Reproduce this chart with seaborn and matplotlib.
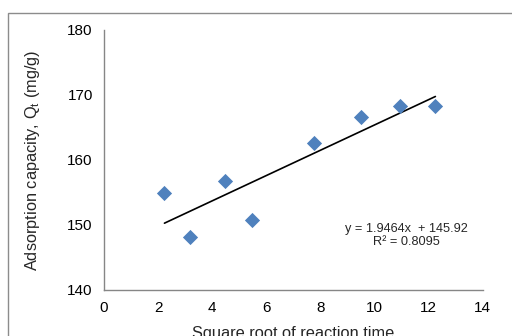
"""
Adsorption kinetics: intraparticle diffusion plot (Qt vs sqrt(t)).
"""

import numpy as np
import seaborn as sns
import matplotlib.pyplot as plt
from matplotlib.patches import Rectangle

# data
sqrt_time = [2.236, 3.162, 4.472, 5.477, 7.746, 9.487, 10.954, 12.247]
qt = [154.9, 148.2, 156.8, 150.8, 162.6, 166.6, 168.3, 168.3]

# trend line from the chart label
slope = 1.9464
intercept = 145.92
r_squared = 0.8095

x_ticks = [0, 2, 4, 6, 8, 10, 12, 14]
y_ticks = [140, 150, 160, 170, 180]


def main():
    sns.set_style("white")
    plt.rcParams['font.family'] = ['Liberation Sans', 'DejaVu Sans']

    fig = plt.figure(figsize=(5.12, 3.36), dpi=100)
    ax = fig.add_axes([0.203, 0.137, 0.74, 0.774])

    sns.scatterplot(x=sqrt_time, y=qt, marker='D', s=60, color='#4F81BD',
                    edgecolor='#4F81BD', linewidth=0, ax=ax, zorder=3)

    xs = np.array([min(sqrt_time), max(sqrt_time)])
    sns.lineplot(x=xs, y=slope * xs + intercept, color='black', lw=1.2, ax=ax)

    ax.set_xlim(0, 14)
    ax.set_ylim(140, 180)
    ax.set_xticks(x_ticks)
    ax.set_yticks(y_ticks)

    for side in ['top', 'right']:
        ax.spines[side].set_visible(False)
    for side in ['left', 'bottom']:
        ax.spines[side].set_color('#868686')
        ax.spines[side].set_linewidth(1)
    ax.tick_params(axis='both', direction='out', length=4, width=1,
                   color='#868686', labelsize=11, labelcolor='black', pad=4)
    ax.tick_params(axis='x', pad=4)

    ax.set_xlabel('Square root of reaction time', fontsize=11.8, labelpad=8)
    ax.set_ylabel('Adsorption capacity, Q$_\\mathregular{t}$ (mg/g)',
                  fontsize=11.8, labelpad=18)

    ax.text(11.19, 148.4, f'y = {slope}x  + {intercept}\nR² = {r_squared}',
            ha='center', va='center', fontsize=9.2, linespacing=1.15)

    # outer chart frame
    fig.add_artist(Rectangle((8 / 512, -0.1), 1.2, 1 - 12.5 / 336 + 0.1,
                             transform=fig.transFigure, fill=False,
                             edgecolor='#8c8c8c', lw=1))

    fig.savefig('out.png', dpi=100)


if __name__ == "__main__":
    main()
